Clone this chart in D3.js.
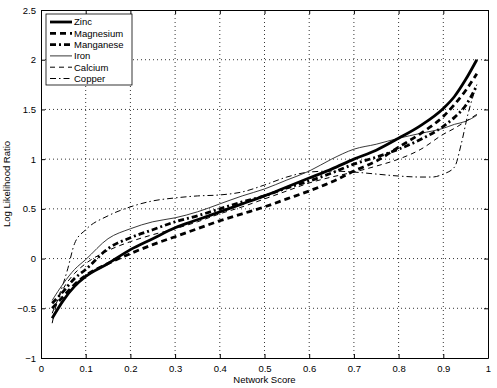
<!DOCTYPE html>
<html><head><meta charset="utf-8">
<script src="https://cdn.jsdelivr.net/npm/d3@7/dist/d3.min.js"></script>
<style>body{margin:0;background:#fff}svg{display:block}text{font-family:"Liberation Sans",Arial,sans-serif}</style>
</head><body><svg id="c" width="497" height="388"></svg>
<script>
const xTicks = [0,0.1,0.2,0.3,0.4,0.5,0.6,0.7,0.8,0.9,1];
const yTicks = [-1,-0.5,0,0.5,1,1.5,2,2.5];
const seriesNames = ["Zinc","Magnesium","Manganese","Iron","Calcium","Copper"];
const xZinc = [0.025,0.05,0.075,0.1,0.15,0.2,0.25,0.3,0.35,0.4,0.45,0.5,0.55,0.6,0.65,0.7,0.75,0.8,0.85,0.9,0.925,0.95,0.975];
const zinc =      [-0.6,-0.42,-0.28,-0.18,-0.05,0.09,0.2,0.31,0.39,0.47,0.55,0.63,0.72,0.81,0.9,1.0,1.09,1.21,1.34,1.51,1.63,1.8,2.0];
const magnesium = [-0.5,-0.38,-0.26,-0.17,-0.05,0.05,0.14,0.22,0.3,0.38,0.45,0.52,0.6,0.68,0.77,0.88,0.98,1.12,1.26,1.43,1.55,1.69,1.86];
const manganese = [-0.45,-0.33,-0.2,-0.11,0.1,0.21,0.29,0.37,0.43,0.5,0.57,0.63,0.71,0.78,0.86,0.95,1.02,1.1,1.2,1.33,1.42,1.54,1.74];
const iron =      [-0.42,-0.25,-0.11,-0.01,0.2,0.3,0.37,0.41,0.47,0.55,0.63,0.7,0.79,0.88,1.0,1.1,1.15,1.21,1.26,1.31,1.35,1.38,1.44];
const calcium =   [-0.55,-0.3,-0.15,-0.05,0.08,0.17,0.24,0.3,0.37,0.45,0.52,0.6,0.68,0.76,0.82,0.87,0.93,1.0,1.1,1.25,1.31,1.38,1.45];
const xCopper = [0.025,0.035,0.05,0.06,0.075,0.1,0.15,0.2,0.25,0.3,0.35,0.4,0.45,0.5,0.55,0.6,0.65,0.7,0.75,0.8,0.85,0.875,0.9,0.925,0.94,0.955,0.975];
const copper =  [-0.65,-0.45,-0.25,-0.1,0.15,0.29,0.43,0.52,0.58,0.61,0.63,0.64,0.67,0.74,0.82,0.87,0.88,0.87,0.85,0.83,0.82,0.82,0.85,0.92,1.15,1.45,1.75];

const svg = d3.select("#c");
const L=41,R=488,T=10,B=358;
const x = d3.scaleLinear().domain([0,1]).range([L,R]);
const y = d3.scaleLinear().domain([-1,2.5]).range([B,T]);

// grid
const g = svg.append("g");
g.selectAll(".gx").data(xTicks.slice(1,-1)).enter().append("line")
 .attr("x1",d=>x(d)).attr("x2",d=>x(d)).attr("y1",T).attr("y2",B)
 .attr("stroke","#000").attr("stroke-width",0.8).attr("stroke-dasharray","1,3");
g.selectAll(".gy").data(yTicks.slice(1,-1)).enter().append("line")
 .attr("y1",d=>y(d)).attr("y2",d=>y(d)).attr("x1",L).attr("x2",R)
 .attr("stroke","#000").attr("stroke-width",0.8).attr("stroke-dasharray","1,3");

// axes
const ax = svg.append("g").attr("transform",`translate(0,${B})`)
 .call(d3.axisBottom(x).tickValues(xTicks).tickFormat(d3.format("~g")).tickSizeInner(-4).tickSizeOuter(0).tickPadding(7));
const ay = svg.append("g").attr("transform",`translate(${L},0)`)
 .call(d3.axisLeft(y).tickValues(yTicks).tickFormat(d=>d<0?"\u2212"+Math.abs(d):d3.format("~g")(d)).tickSizeInner(-4).tickSizeOuter(0).tickPadding(5));
svg.append("g").attr("transform",`translate(0,${T})`)
 .call(d3.axisTop(x).tickValues(xTicks).tickFormat("").tickSizeInner(-4).tickSizeOuter(0));
svg.append("g").attr("transform",`translate(${R},0)`)
 .call(d3.axisRight(y).tickValues(yTicks).tickFormat("").tickSizeInner(-4).tickSizeOuter(0));
svg.selectAll(".domain").attr("stroke","#000").attr("stroke-width",1);
svg.selectAll(".tick text").attr("font-size",9.5).attr("fill","#000");
svg.selectAll(".tick line").attr("stroke","#000");

svg.append("text").attr("x",x(0.5)).attr("y",383).attr("text-anchor","middle").attr("font-size",9.5).text("Network Score");
svg.append("text").attr("transform",`translate(10,${y(0.75)}) rotate(-90)`).attr("text-anchor","middle").attr("font-size",9.5).text("Log Likelihood Ratio");

const styles = [
 {w:2.8,dash:null,color:"#000"},
 {w:2.8,dash:"6,4",color:"#000"},
 {w:2.8,dash:"6,3,2,3",color:"#000"},
 {w:0.9,dash:null,color:"#222"},
 {w:1,dash:"5,4",color:"#000"},
 {w:1,dash:"6,3,1.5,3",color:"#000"}
];
const data = [
 xZinc.map((v,i)=>[v,zinc[i]]),
 xZinc.map((v,i)=>[v,magnesium[i]]),
 xZinc.map((v,i)=>[v,manganese[i]]),
 xZinc.map((v,i)=>[v,iron[i]]),
 xZinc.map((v,i)=>[v,calcium[i]]),
 xCopper.map((v,i)=>[v,copper[i]])
];
const line = d3.line().x(d=>x(d[0])).y(d=>y(d[1])).curve(d3.curveMonotoneX);
const order=[5,4,3,2,1,0];
order.forEach(i=>{
 svg.append("path").attr("d",line(data[i])).attr("fill","none")
  .attr("stroke",styles[i].color).attr("stroke-width",styles[i].w)
  .attr("stroke-dasharray",styles[i].dash);
});

// legend
const lg = svg.append("g");
lg.append("rect").attr("x",46).attr("y",14).attr("width",86).attr("height",71)
 .attr("fill","#fff").attr("stroke","#000").attr("stroke-width",0.8);
seriesNames.forEach((n,i)=>{
 const yy = 22 + i*11.3;
 lg.append("line").attr("x1",50).attr("x2",72).attr("y1",yy).attr("y2",yy)
  .attr("stroke",styles[i].color).attr("stroke-width",styles[i].w)
  .attr("stroke-dasharray",styles[i].dash);
 lg.append("text").attr("x",74).attr("y",yy+3.3).attr("font-size",9.5).text(n);
});
</script></body></html>
